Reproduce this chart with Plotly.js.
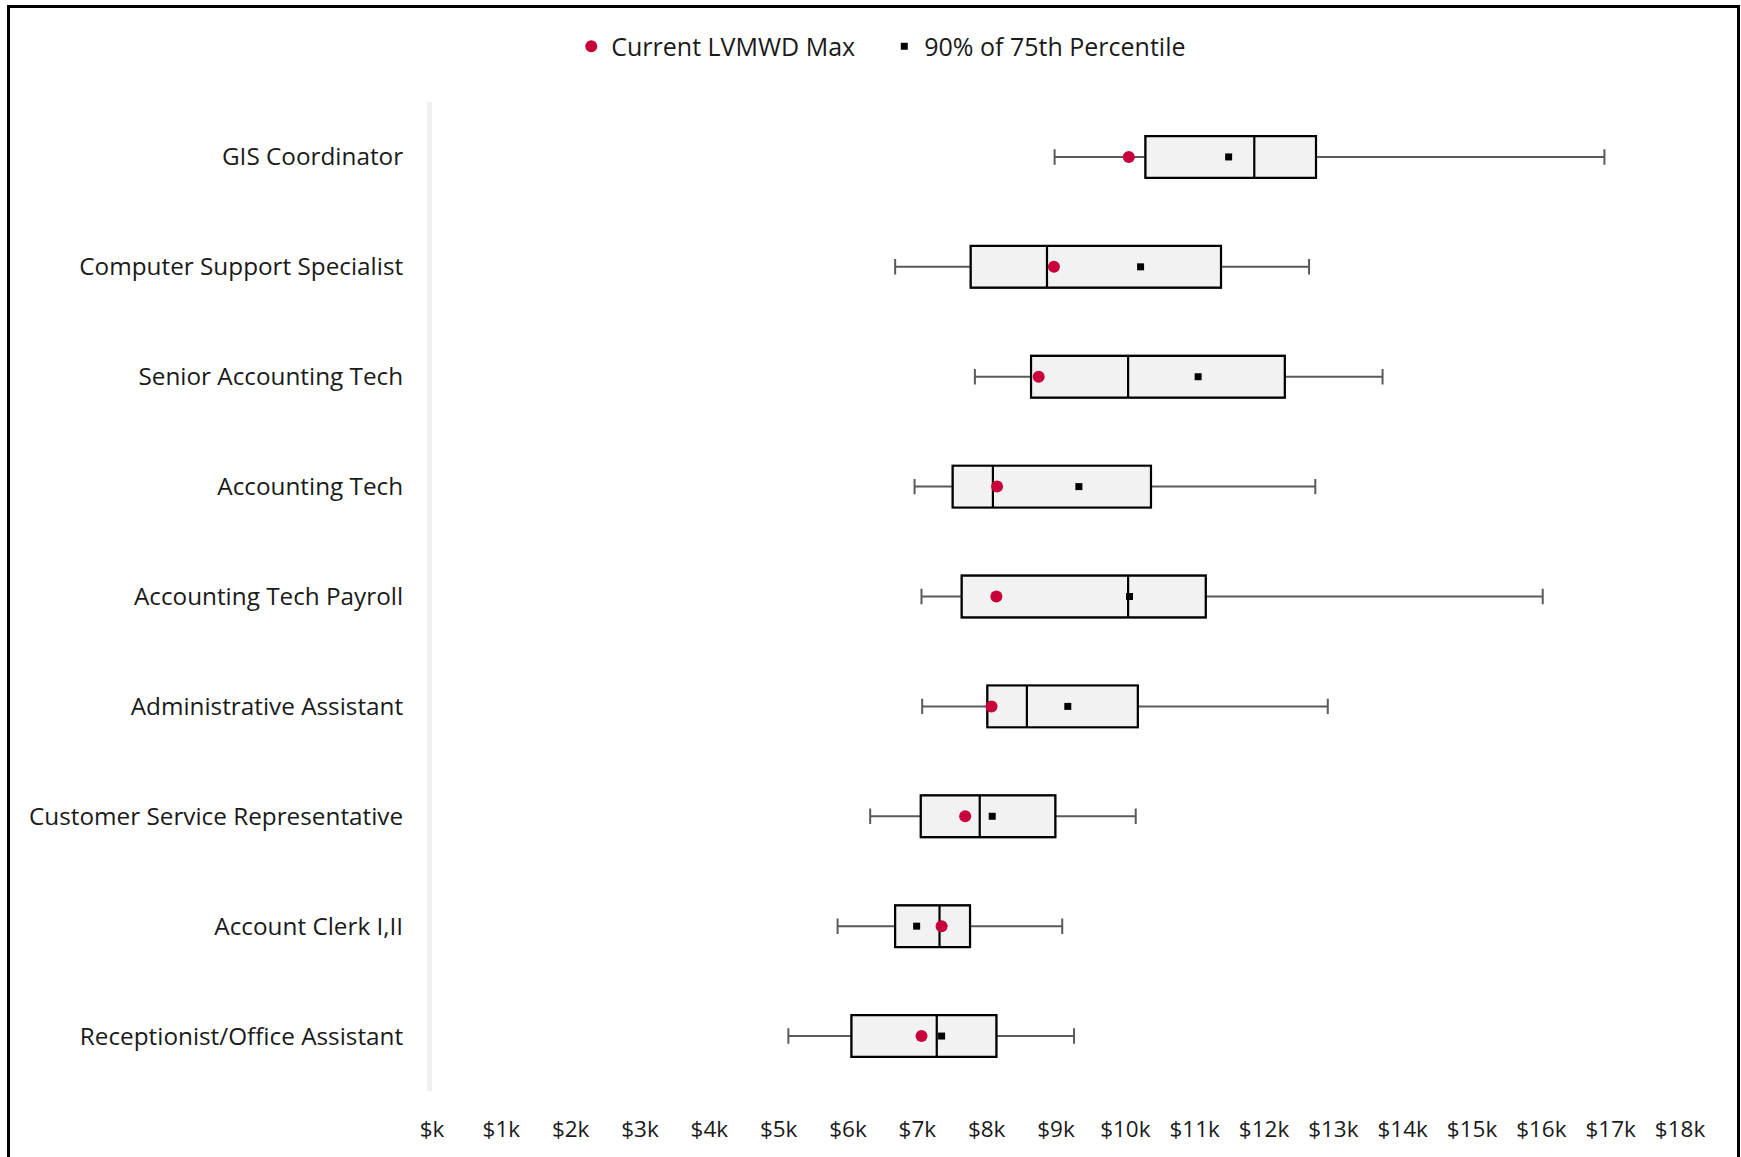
<!DOCTYPE html>
<html>
<head>
<meta charset="utf-8">
<script src="https://cdn.plot.ly/plotly-3.0.1.min.js"></script>
<style>
  html, body { margin: 0; padding: 0; background: #ffffff; }
  #wrap { position: relative; width: 1741px; height: 1157px; overflow: hidden; }
  #chart { width: 1741px; height: 1157px; }
  #frame { position: absolute; left: 7px; top: 5px; width: 1727px; height: 1200px;
           border: 3px solid #000; pointer-events: none; }
</style>
</head>
<body>
<div id="wrap">
  <div id="chart"></div>
  <div id="frame"></div>
</div>
<script>
// Job titles (top to bottom)
const categories = [
  "GIS Coordinator",
  "Computer Support Specialist",
  "Senior Accounting Tech",
  "Accounting Tech",
  "Accounting Tech Payroll",
  "Administrative Assistant",
  "Customer Service Representative",
  "Account Clerk I,II",
  "Receptionist/Office Assistant"
];

// Monthly salary distribution, in $ thousands
const whiskerLow  = [8.98, 6.68, 7.83, 6.96, 7.06, 7.07, 6.32, 5.85, 5.14];
const q1          = [10.29, 7.77, 8.64, 7.51, 7.64, 8.01, 7.05, 6.68, 6.05];
const median      = [11.86, 8.87, 10.04, 8.09, 10.04, 8.58, 7.90, 7.32, 7.28];
const q3          = [12.75, 11.38, 12.30, 10.37, 11.16, 10.18, 8.99, 7.76, 8.14];
const whiskerHigh = [16.91, 12.65, 13.71, 12.74, 16.02, 12.92, 10.15, 9.09, 9.26];

// Markers
const currentMax   = [10.05, 8.97, 8.75, 8.15, 8.14, 8.07, 7.69, 7.35, 7.06];
const pct75x90     = [11.49, 10.22, 11.05, 9.33, 10.06, 9.17, 8.08, 6.99, 7.35];

// X-axis ticks
const tickVals  = [0,1,2,3,4,5,6,7,8,9,10,11,12,13,14,15,16,17,18];
const tickTexts = ["$k","$1k","$2k","$3k","$4k","$5k","$6k","$7k","$8k","$9k",
                   "$10k","$11k","$12k","$13k","$14k","$15k","$16k","$17k","$18k"];

const tickFont = { family: "Open Sans, sans-serif", size: 22.5, color: "#1a1a1a" };

const traces = [
  // whiskers (gray)
  {
    type: "box", orientation: "h", y: categories,
    q1: q1, median: median, q3: q3,
    lowerfence: whiskerLow, upperfence: whiskerHigh,
    width: 0.38, whiskerwidth: 0.37,
    fillcolor: "#f2f2f2",
    line: { color: "#5a5a5a", width: 2 },
    boxpoints: false, hoverinfo: "skip", showlegend: false
  },
  // box body (black outline)
  {
    type: "box", orientation: "h", y: categories,
    q1: q1, median: median, q3: q3,
    lowerfence: q1, upperfence: q3,
    width: 0.38, whiskerwidth: 0,
    fillcolor: "#f2f2f2",
    line: { color: "#000000", width: 2.2 },
    boxpoints: false, hoverinfo: "skip", showlegend: false
  },
  {
    type: "scatter", mode: "markers", name: "Current LVMWD Max",
    x: currentMax, y: categories,
    marker: { symbol: "circle", size: 12, color: "#c8003c" }
  },
  {
    type: "scatter", mode: "markers", name: "90% of 75th Percentile",
    x: pct75x90, y: categories,
    marker: { symbol: "square", size: 7, color: "#000000" }
  }
];

const layout = {
  width: 1741, height: 1157,
  paper_bgcolor: "#ffffff", plot_bgcolor: "#ffffff",
  margin: { l: 432, r: 61, t: 102, b: 66 },
  boxmode: "overlay",
  showlegend: true,
  legend: {
    orientation: "h", x: 0.1116, xanchor: "left", y: 1.056, yanchor: "middle",
    font: { family: "Open Sans, sans-serif", size: 25, color: "#1a1a1a" },
    entrywidth: 268, entrywidthmode: "pixels",
    bgcolor: "rgba(0,0,0,0)", traceorder: "normal"
  },
  xaxis: {
    range: [0, 18], tickvals: tickVals, ticktext: tickTexts,
    showgrid: false, zeroline: false, showline: false,
    ticks: "outside", ticklen: 18, tickcolor: "rgba(0,0,0,0)",
    tickfont: tickFont, fixedrange: true
  },
  yaxis: {
    type: "category", categoryorder: "array",
    categoryarray: categories.slice().reverse(),
    range: [-0.5, 8.5], autorange: false,
    showgrid: false, zeroline: false,
    showline: true, linecolor: "#f0f0f0", linewidth: 5,
    ticks: "", ticklabelstandoff: 19,
    tickfont: { family: "Open Sans, sans-serif", size: 24.3, color: "#1a1a1a" },
    fixedrange: true
  }
};

Plotly.newPlot("chart", traces, layout, { displayModeBar: false, staticPlot: true });
</script>
</body>
</html>
